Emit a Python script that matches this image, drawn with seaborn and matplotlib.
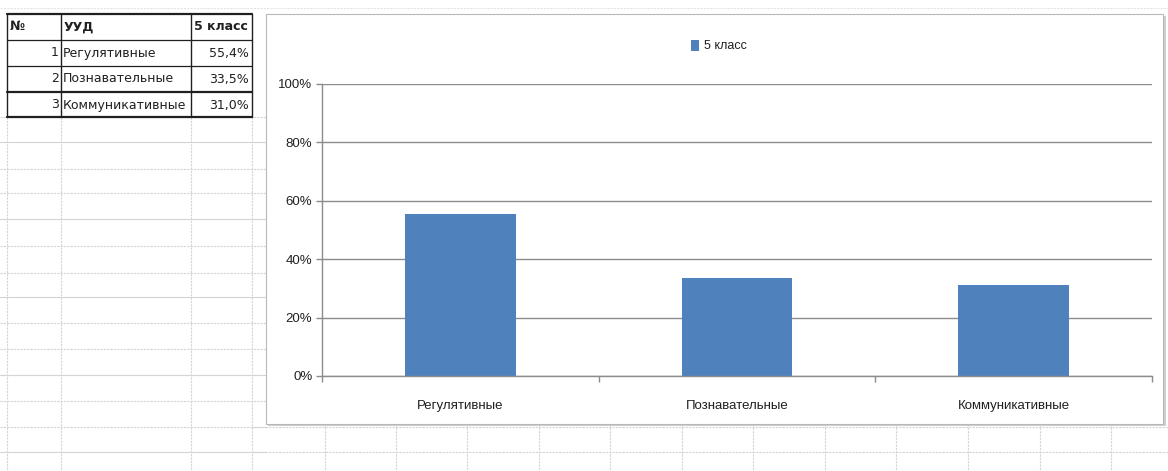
import matplotlib
matplotlib.use('Agg')
import matplotlib.pyplot as plt
import seaborn as sns
from matplotlib.lines import Line2D
from matplotlib.patches import Rectangle
from matplotlib.ticker import FuncFormatter

# Data
row_numbers = [1, 2, 3]
categories = ['Регулятивные', 'Познавательные', 'Коммуникативные']
values = [0.554, 0.335, 0.310]
value_labels = ['55,4%', '33,5%', '31,0%']
headers = ['№', 'УУД', '5 класс']
series_name = '5 класс'

sns.set_theme(style='white')
plt.rcParams['font.family'] = ['Liberation Sans Narrow', 'Liberation Sans', 'DejaVu Sans']

W, H = 1168, 471
fig = plt.figure(figsize=(W / 100, H / 100), dpi=100)
fig.patch.set_facecolor('white')


def fx(px):
    return px / W


def fy(py):
    return 1 - py / H


def hline(x0, x1, y, color='#d4d4d4', lw=0.8, ls='-', z=-3):
    fig.add_artist(Line2D([fx(x0), fx(x1)], [fy(y), fy(y)], color=color, lw=lw,
                          ls=ls, zorder=z, transform=fig.transFigure))


def vline(x, y0, y1, color='#d4d4d4', lw=0.8, ls='-', z=-3):
    fig.add_artist(Line2D([fx(x), fx(x)], [fy(y0), fy(y1)], color=color, lw=lw,
                          ls=ls, zorder=z, transform=fig.transFigure))


# spreadsheet grid
row_y = [14, 40, 66, 92, 117, 142, 169, 193, 219, 246, 273, 297, 323, 349, 375,
         401, 427, 452]
left_cols = [7, 61, 191, 252]
for i, y in enumerate(row_y[4:]):
    hline(0, 266, y, ls='-' if i % 3 == 1 else (0, (2, 1)))
for y in row_y[-2:]:
    hline(252, W, y, ls=(0, (2, 1)))
for x in left_cols:
    vline(x, 117, H, ls=(0, (2, 1)))
for x in [325, 396, 467, 539, 610, 682, 753, 825, 896, 968, 1040, 1111]:
    vline(x, 424, H, ls=(0, (2, 1)))
hline(0, W, 8, color='#e4e4e4', ls=(0, (2, 1)))

# data table
for y in row_y[:5]:
    hline(left_cols[0], left_cols[-1], y, lw=1.6 if y in (14, 92, 117) else 0.9,
          color='#202020', z=-2)
for x in left_cols:
    vline(x, 14, 117, color='#202020', lw=1.0, z=-2)

tfont = dict(fontsize=9, family=['Liberation Sans Narrow', 'DejaVu Sans'],
             va='center', color='#202020')
fig.text(fx(10), fy(27), headers[0], fontweight='bold', **tfont)
fig.text(fx(64), fy(27), headers[1], fontweight='bold', **tfont)
fig.text(fx(194), fy(27), headers[2], fontweight='bold', **tfont)
for i, (n, name, lab) in enumerate(zip(row_numbers, categories, value_labels)):
    yc = 53 + 26 * i
    fig.text(fx(59), fy(yc), str(n), ha='right', **tfont)
    fig.text(fx(63), fy(yc), name, ha='left', **tfont)
    fig.text(fx(249), fy(yc), lab, ha='right', **tfont)

# chart frame
fig.add_artist(Rectangle((fx(268), fy(426)), fx(1166) - fx(268), fy(16) - fy(426),
                         transform=fig.transFigure, facecolor='#cfcfcf',
                         edgecolor='none', zorder=-1.5))
fig.add_artist(Rectangle((fx(266), fy(424)), fx(1163) - fx(266), fy(14) - fy(424),
                         transform=fig.transFigure, facecolor='white',
                         edgecolor='#b8b8b8', lw=0.8, zorder=-1))

ax = fig.add_axes([fx(322), fy(376), fx(1152) - fx(322), fy(84) - fy(376)])
ax.patch.set_alpha(0)
sns.barplot(x=categories, y=values, color='#4F81BD', saturation=1, width=0.4,
            ax=ax, label=series_name, zorder=3, edgecolor='none', linewidth=0)

ax.set_ylim(0, 1)
ax.set_xlim(-0.5, 2.5)
ax.set_yticks([0, 0.2, 0.4, 0.6, 0.8, 1.0])
ax.yaxis.set_major_formatter(FuncFormatter(lambda v, p: f'{v * 100:.0f}%'))
ax.yaxis.grid(True, color='#8c8c8c', lw=1.0)
ax.set_axisbelow(True)
for s in ['top', 'right']:
    ax.spines[s].set_visible(False)
for s in ['left', 'bottom']:
    ax.spines[s].set_color('#8c8c8c')
    ax.spines[s].set_linewidth(1.0)
ax.spines['bottom'].set_zorder(4)
ax.tick_params(axis='y', length=4, width=1, color='#8c8c8c', direction='out',
               left=True, labelsize=9.5, pad=3, labelcolor='#202020')
ax.tick_params(axis='x', which='major', length=0, labelsize=9.5, pad=17,
               labelcolor='#202020')
ax.set_xticks([-0.5, 0.5, 1.5, 2.5], minor=True)
ax.tick_params(axis='x', which='minor', length=4, width=1, color='#8c8c8c',
               direction='out', bottom=True)
ax.set_xlabel('')
ax.set_ylabel('')

leg = ax.legend(loc='center left', bbox_to_anchor=(fx(686), fy(46)),
                bbox_transform=fig.transFigure, frameon=False, fontsize=9,
                handlelength=0.6, handleheight=1.0, handletextpad=0.4,
                borderaxespad=0)
for t in leg.get_texts():
    t.set_color('#202020')

fig.savefig('out.png', dpi=100)
